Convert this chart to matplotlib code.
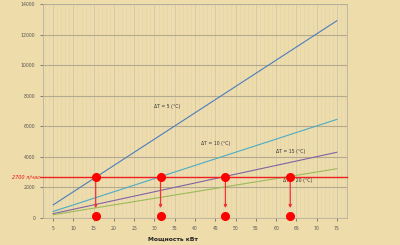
import matplotlib.pyplot as plt
from matplotlib.ticker import MultipleLocator

power = [5, 10, 15, 20, 25, 30, 35, 40, 45, 50, 55, 60, 65, 70, 75]
flow_dt5 = [860, 1720, 2580, 3440, 4300, 5160, 6020, 6880, 7740, 8600, 9460, 10320, 11180, 12040, 12900]
flow_dt10 = [430, 860, 1290, 1720, 2150, 2580, 3010, 3440, 3870, 4300, 4730, 5160, 5590, 6020, 6450]
flow_dt15 = [287, 573, 860, 1147, 1433, 1720, 2007, 2293, 2580, 2867, 3153, 3440, 3727, 4013, 4300]
flow_dt20 = [215, 430, 645, 860, 1075, 1290, 1505, 1720, 1935, 2150, 2365, 2580, 2795, 3010, 3225]
target_flow = 2700
cross_power = [15.5, 31.5, 47.5, 63.5]
arrow_end = 650
bottom_dot = 120

series = [
    (flow_dt5, '#4a7ebb', "ΔT = 5 (°C)", 33, 7300),
    (flow_dt10, '#4bacc6', "ΔT = 10 (°C)", 45, 4870),
    (flow_dt15, '#8064a2', "ΔT = 15 (°C)", 63.7, 4340),
    (flow_dt20, '#9bbb59', "ΔT = 20 (°C)", 65.4, 2430),
]

bg = '#efdcab'
fig = plt.figure(figsize=(4, 2.45), dpi=100, facecolor=bg)
ax = fig.add_axes([0.1075, 0.110, 0.76, 0.874])
ax.set_facecolor(bg)

for vals, col, lab, tx, ty in series:
    ax.plot(power, vals, color=col, lw=0.8, zorder=3)
    ax.text(tx, ty, lab, fontsize=3.3, color='#333333', ha='center', va='center', zorder=4)

ax.axhline(target_flow, color='#f02020', lw=1.0, zorder=4, xmin=-0.01, xmax=1.0, clip_on=False)
ax.text(-0.01, target_flow, "2700 л/час", transform=ax.get_yaxis_transform(),
        fontsize=3.6, color='#ee1111', style='italic', ha='right', va='center')

for x in cross_power:
    ax.annotate("", xy=(x, arrow_end), xytext=(x, target_flow),
                arrowprops=dict(arrowstyle='-|>', color='#ee3333', lw=0.9,
                                mutation_scale=4, shrinkA=0, shrinkB=0), zorder=5)
    ax.plot([x], [target_flow], 'o', color='#ff0000', ms=5.5, zorder=6)
    ax.plot([x], [bottom_dot], 'o', color='#ff0000', ms=5.5, zorder=6, clip_on=False)

ax.set_xlim(2.5, 77.5)
ax.set_ylim(0, 14000)
ax.set_xticks(power)
ax.set_yticks(range(0, 14001, 2000))
ax.xaxis.set_minor_locator(MultipleLocator(1))
ax.tick_params(labelsize=3.3, colors='#555555', length=2, width=0.5)
ax.tick_params(which='minor', length=0)
ax.grid(axis='y', which='major', color='#b4aa90', lw=0.8)
ax.grid(axis='x', which='major', color='#cfc6ae', lw=0.6)
ax.grid(axis='x', which='minor', color='#ddd2b6', lw=0.4)
for s in ax.spines.values():
    s.set_color('#b8b0a0')
    s.set_linewidth(0.6)

fig.text(173 / 400, 1 - 239 / 245, "Мощность кВт", fontsize=4.3, fontweight='bold',
         color='#222222', ha='center', va='center')

fig.savefig("out.png", dpi=100, facecolor=bg)
